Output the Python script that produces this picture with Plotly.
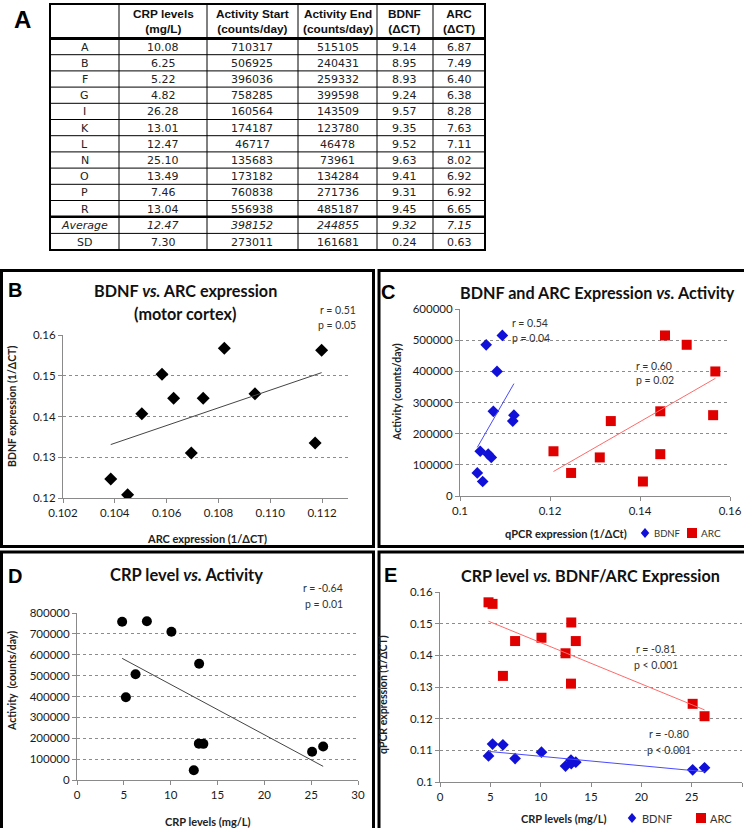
import numpy as np
import plotly.graph_objects as go

W, H = 744, 828

# ---- data table (panel A) ----
subjects = ["A", "B", "F", "G", "I", "K", "L", "N", "O", "P", "R"]
crp_levels = [10.08, 6.25, 5.22, 4.82, 26.28, 13.01, 12.47, 25.10, 13.49, 7.46, 13.04]
activity_start = [710317, 506925, 396036, 758285, 160564, 174187, 46717, 135683, 173182, 760838, 556938]
activity_end = [515105, 240431, 259332, 399598, 143509, 123780, 46478, 73961, 134284, 271736, 485187]
bdnf_dct = [9.14, 8.95, 8.93, 9.24, 9.57, 9.35, 9.52, 9.63, 9.41, 9.31, 9.45]
arc_dct = [6.87, 7.49, 6.40, 6.38, 8.28, 7.63, 7.11, 8.02, 6.92, 6.92, 6.65]

summary_labels = ["Average", "SD"]
summary_crp = ["12.47", "7.30"]
summary_start = ["398152", "273011"]
summary_end = ["244855", "161681"]
summary_bdnf = ["9.32", "0.24"]
summary_arc = ["7.15", "0.63"]

header_labels = ["", "CRP levels<br>(mg/L)", "Activity Start<br>(counts/day)",
                 "Activity End<br>(counts/day)", "BDNF<br>(ΔCT)", "ARC<br>(ΔCT)"]

# correlation statistics printed on the panels
stats_b = ["r = 0.51", "p = 0.05"]
stats_c_bdnf = ["r = 0.54", "p = 0.04"]
stats_c_arc = ["r = 0.60", "p = 0.02"]
stats_d = ["r = -0.64", "p = 0.01"]
stats_e_arc = ["r = -0.81", "p < 0.001"]
stats_e_bdnf = ["r = -0.80", "p < 0.001"]

series_names = ["BDNF", "ARC"]

# expression as 1/ΔCT
bdnf_expr = [1.0 / v for v in bdnf_dct]
arc_expr = [1.0 / v for v in arc_dct]

BLUE = "#1010d8"
RED = "#e00000"
FONT = "Lato"
TXT = "#222222"


def px(x):
    return x / W


def py(y):
    return 1 - y / H


def trend(x, y):
    k, b = np.polyfit(x, y, 1)
    xs = [min(x), max(x)]
    return xs, [k * v + b for v in xs]


fig = go.Figure()

# ---- panel B: BDNF vs ARC ----
fig.add_trace(go.Scatter(x=bdnf_expr, y=arc_expr, mode="markers", xaxis="x", yaxis="y",
                         marker=dict(symbol="diamond", size=10, color="black"), showlegend=False))
tx, ty = trend(bdnf_expr, arc_expr)
fig.add_trace(go.Scatter(x=tx, y=ty, mode="lines", xaxis="x", yaxis="y",
                         line=dict(color="#444", width=1), showlegend=False))

# ---- panel C: expression vs activity ----
fig.add_trace(go.Scatter(x=bdnf_expr, y=activity_end, mode="markers", xaxis="x2", yaxis="y2",
                         name=series_names[0], showlegend=False,
                         marker=dict(symbol="diamond", size=9, color=BLUE)))
fig.add_trace(go.Scatter(x=arc_expr, y=activity_end, mode="markers", xaxis="x2", yaxis="y2",
                         name=series_names[1], showlegend=False,
                         marker=dict(symbol="square", size=10, color=RED)))
tx, ty = trend(bdnf_expr, activity_end)
fig.add_trace(go.Scatter(x=tx, y=ty, mode="lines", xaxis="x2", yaxis="y2",
                         line=dict(color="#4a4aff", width=1), showlegend=False))
tx, ty = trend(arc_expr, activity_end)
fig.add_trace(go.Scatter(x=tx, y=ty, mode="lines", xaxis="x2", yaxis="y2",
                         line=dict(color="#ff6a6a", width=1), showlegend=False))

# ---- panel D: CRP vs activity ----
fig.add_trace(go.Scatter(x=crp_levels, y=activity_start, mode="markers", xaxis="x3", yaxis="y3",
                         marker=dict(symbol="circle", size=10, color="black"), showlegend=False))
tx, ty = trend(crp_levels, activity_start)
fig.add_trace(go.Scatter(x=tx, y=ty, mode="lines", xaxis="x3", yaxis="y3",
                         line=dict(color="#444", width=1), showlegend=False))

# ---- panel E: CRP vs expression ----
fig.add_trace(go.Scatter(x=crp_levels, y=bdnf_expr, mode="markers", xaxis="x4", yaxis="y4",
                         name=series_names[0], showlegend=False,
                         marker=dict(symbol="diamond", size=9, color=BLUE)))
fig.add_trace(go.Scatter(x=crp_levels, y=arc_expr, mode="markers", xaxis="x4", yaxis="y4",
                         name=series_names[1], showlegend=False,
                         marker=dict(symbol="square", size=10, color=RED)))
tx, ty = trend(crp_levels, bdnf_expr)
fig.add_trace(go.Scatter(x=tx, y=ty, mode="lines", xaxis="x4", yaxis="y4",
                         line=dict(color="#4a4aff", width=1), showlegend=False))
tx, ty = trend(crp_levels, arc_expr)
fig.add_trace(go.Scatter(x=tx, y=ty, mode="lines", xaxis="x4", yaxis="y4",
                         line=dict(color="#ff6a6a", width=1), showlegend=False))

tickfont = dict(family=FONT, size=11.5, color="#1a1a1a")


def xax(dom, rng, dtick, anchor, fmt=None):
    d = dict(domain=[px(dom[0]), px(dom[1])], range=rng, dtick=dtick, tick0=rng[0],
             anchor=anchor, showline=True, linecolor="#8a8a8a", linewidth=1,
             ticks="outside", ticklen=4, tickcolor="#8a8a8a", showgrid=False,
             zeroline=False, tickfont=tickfont)
    if fmt:
        d["tickformat"] = fmt
    return d


def yax(dom, rng, dtick, anchor, fmt=None):
    d = dict(domain=[py(dom[1]), py(dom[0])], range=rng, dtick=dtick, tick0=rng[0],
             anchor=anchor, showline=True, linecolor="#8a8a8a", linewidth=1,
             ticks="outside", ticklen=4, tickcolor="#8a8a8a", showgrid=True,
             gridcolor="#8c8c8c", griddash="dot", gridwidth=1,
             zeroline=False, tickfont=tickfont)
    if fmt:
        d["tickformat"] = fmt
    return d


fig.update_layout(
    width=W, height=H, margin=dict(l=0, r=0, t=0, b=0, autoexpand=False),
    paper_bgcolor="white", plot_bgcolor="white", showlegend=False,
    xaxis=xax((63, 348), [0.102, 0.113], 0.002, "y", ".3f"),
    yaxis=yax((335, 498), [0.12, 0.16], 0.01, "x"),
    xaxis2=xax((460, 730), [0.1, 0.16], 0.02, "y2"),
    yaxis2=yax((309, 496), [0, 600000], 100000, "x2", "d"),
    xaxis3=xax((77, 358), [0, 30], 5, "y3"),
    yaxis3=yax((613, 780), [0, 800000], 100000, "x3", "d"),
    xaxis4=xax((440, 742), [0, 30], 5, "y4"),
    yaxis4=yax((592, 782), [0.1, 0.16], 0.01, "x4"),
)

# ---- panel A: table drawn from the data columns ----
col_edges = [50, 119, 207, 298, 377, 433, 485]
header_top, header_bottom = 4, 38.5
row_h = 16.2
row_edges = [header_bottom + i * row_h for i in range(len(subjects) + 1)]
row_edges += [row_edges[-1] + 16.7 * (i + 1) for i in range(len(summary_labels))]

columns = [
    subjects,
    ["{:.2f}".format(v) for v in crp_levels],
    ["{:d}".format(v) for v in activity_start],
    ["{:d}".format(v) for v in activity_end],
    ["{:.2f}".format(v) for v in bdnf_dct],
    ["{:.2f}".format(v) for v in arc_dct],
]
summary_columns = [summary_labels, summary_crp, summary_start, summary_end, summary_bdnf, summary_arc]

shapes = []


def hline(x0, x1, y, w):
    shapes.append(dict(type="line", xref="paper", yref="paper", x0=px(x0), x1=px(x1),
                       y0=py(y), y1=py(y), line=dict(color="black", width=w)))


def vline(x, y0, y1, w):
    shapes.append(dict(type="line", xref="paper", yref="paper", x0=px(x), x1=px(x),
                       y0=py(y0), y1=py(y1), line=dict(color="black", width=w)))


table_bottom = row_edges[-1]
for xe in col_edges[1:-1]:
    vline(xe, header_top, table_bottom, 1)
for i, ye in enumerate(row_edges[1:-1], start=1):
    w = 2.5 if i == len(subjects) else 1
    hline(col_edges[0], col_edges[-1], ye, w)
hline(col_edges[0], col_edges[-1], header_bottom, 3)
shapes.append(dict(type="rect", xref="paper", yref="paper",
                   x0=px(col_edges[0]), x1=px(col_edges[-1]), y0=py(header_top), y1=py(table_bottom),
                   line=dict(color="black", width=2), fillcolor="rgba(0,0,0,0)"))

# ---- panel frames ----
frames = [(1.5, 270.5, 373.5, 546.5), (379, 270.5, 746, 546.5),
          (1.5, 552, 373.5, 830), (379, 552, 746, 830)]
for x0, y0, x1, y1 in frames:
    shapes.append(dict(type="rect", xref="paper", yref="paper",
                       x0=px(x0), x1=px(x1), y0=py(y0), y1=py(y1),
                       line=dict(color="black", width=3), fillcolor="rgba(0,0,0,0)"))


# ---- legend keys for panels C and E ----
def diamond_key(cx, cy, r, color):
    path = "M %f %f L %f %f L %f %f L %f %f Z" % (
        px(cx), py(cy - r), px(cx + r * 0.85), py(cy), px(cx), py(cy + r), px(cx - r * 0.85), py(cy))
    shapes.append(dict(type="path", xref="paper", yref="paper", path=path,
                       fillcolor=color, line=dict(width=0)))


def square_key(cx, cy, r, color):
    shapes.append(dict(type="rect", xref="paper", yref="paper",
                       x0=px(cx - r), x1=px(cx + r), y0=py(cy + r), y1=py(cy - r),
                       fillcolor=color, line=dict(width=0)))


diamond_key(645, 533, 5, BLUE)
square_key(692, 533, 5, RED)
diamond_key(632, 818, 5, BLUE)
square_key(701, 818, 5, RED)

fig.update_layout(shapes=shapes)

ann = []


def text(x, y, s, size, bold=False, anchor="center", color=TXT, family=FONT, angle=0):
    ann.append(dict(x=px(x), y=py(y), xref="paper", yref="paper", showarrow=False,
                    text=("<b>%s</b>" % s) if bold else s, xanchor=anchor, yanchor="middle",
                    textangle=angle, font=dict(family=family, size=size, color=color)))


# table text
for c in range(len(columns)):
    xc = (col_edges[c] + col_edges[c + 1]) / 2
    if header_labels[c]:
        text(xc, (header_top + header_bottom) / 2 + 0.5, header_labels[c].replace("<br>", "</b><br><b>"),
             11.8, True, family="Liberation Sans", color="#111")
    for r, val in enumerate(columns[c]):
        yc = (row_edges[r] + row_edges[r + 1]) / 2 + 0.5
        text(xc, yc, val, 11, family="DejaVu Sans")
    for r, val in enumerate(summary_columns[c]):
        k = len(subjects) + r
        yc = (row_edges[k] + row_edges[k + 1]) / 2 + 0.5
        text(xc, yc, "<i>%s</i>" % val if r == 0 else val, 11, family="DejaVu Sans")

# panel letters
text(22, 20, "A", 24, True, family="Liberation Sans", color="black")
text(15, 290, "B", 20, True, family="Liberation Sans", color="black")
text(388, 292, "C", 20, True, family="Liberation Sans", color="black")
text(15, 576, "D", 20, True, family="Liberation Sans", color="black")
text(390, 575, "E", 20, True, family="Liberation Sans", color="black")

# titles
text(185, 290, "BDNF <i>vs.</i> ARC expression", 16.2, True, color="#111")
text(185, 313, "(motor cortex)", 16.2, True, color="#111")
text(597, 292, "BDNF and ARC Expression <i>vs.</i> Activity", 16.2, True, color="#111")
text(186, 575, "CRP level <i>vs.</i> Activity", 16.5, True, color="#111")
text(590, 575, "CRP level <i>vs.</i> BDNF/ARC Expression", 16.2, True, color="#111")

# axis titles
text(207, 538, "ARC expression (1/ΔCT)", 11, True)
text(12, 407, "BDNF expression (1/ΔCT)", 10.5, True, angle=-90)
text(566, 533, "qPCR expression (1/ΔCt)", 11, True)
text(397, 392, "Activity (counts/day)", 10.5, True, angle=-90)
text(208, 821, "CRP levels (mg/L)", 11, True)
text(12, 681, "Activity  (counts/day)", 10.5, True, angle=-90)
text(564, 818, "CRP levels (mg/L)", 11, True)
text(383, 695, "qPCR expression (1/ΔCT)", 10.5, True, angle=-90)

# legend labels
text(652, 533, series_names[0], 9.5, anchor="left", color="#333")
text(699, 533, series_names[1], 10, anchor="left", color="#333")
text(640, 818, series_names[0], 11, anchor="left", color="#333")
text(708, 818, series_names[1], 11, anchor="left", color="#333")

# statistics
text(358, 310, stats_b[0], 10.5, anchor="right", color="#333")
text(358, 325, stats_b[1], 10.5, anchor="right", color="#333")
text(510, 323, stats_c_bdnf[0], 10.5, anchor="left", color="#333")
text(510, 338, stats_c_bdnf[1], 10.5, anchor="left", color="#333")
text(634, 366, stats_c_arc[0], 10.5, anchor="left", color="#333")
text(634, 380, stats_c_arc[1], 10.5, anchor="left", color="#333")
text(345, 588, stats_d[0], 10.5, anchor="right", color="#333")
text(345, 604, stats_d[1], 10.5, anchor="right", color="#333")
text(634, 649, stats_e_arc[0], 10.5, anchor="left", color="#333")
text(632, 665, stats_e_arc[1], 10.5, anchor="left", color="#333")
text(647, 734, stats_e_bdnf[0], 10.5, anchor="left", color="#333")
text(645, 750, stats_e_bdnf[1], 10.5, anchor="left", color="#333")

fig.update_layout(annotations=ann)

fig.write_html("out.html")
